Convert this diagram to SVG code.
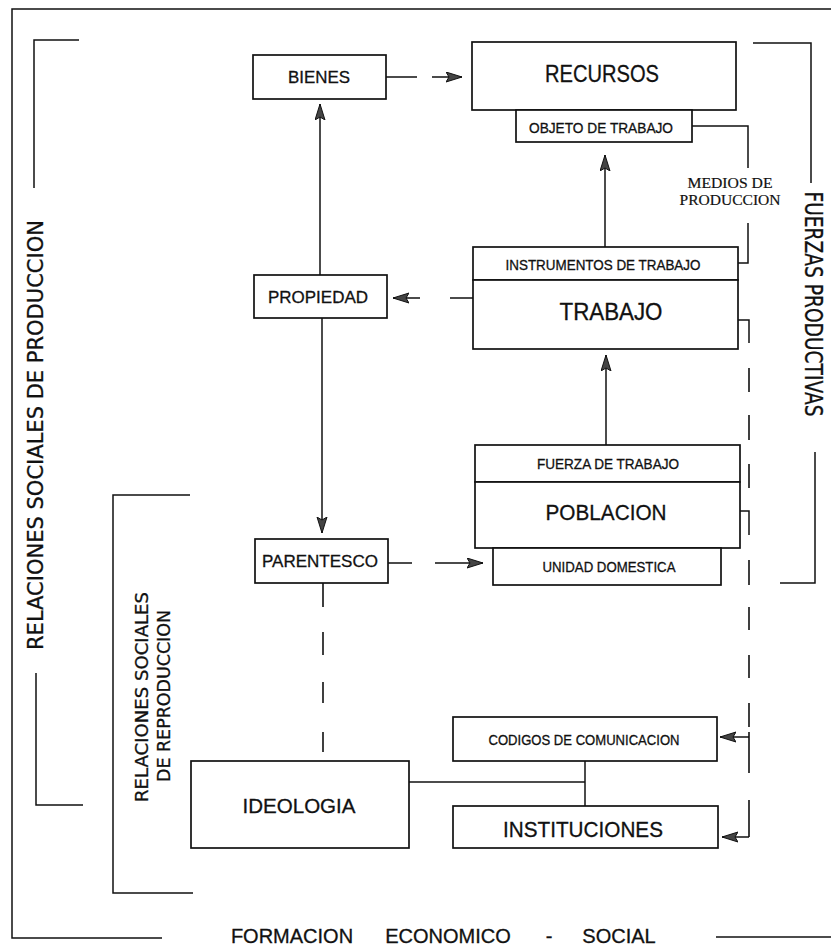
<svg xmlns="http://www.w3.org/2000/svg" width="831" height="947" viewBox="0 0 831 947">
<style>
  .box { fill: #fff; stroke: #111; stroke-width: 1.7; }
  .ln { fill: none; stroke: #111; stroke-width: 1.5; }
  .dash { fill: none; stroke: #111; stroke-width: 1.6; }
  .t { font-family: "Liberation Sans", Arial, sans-serif; fill: #111; stroke: #111; stroke-width: 0.3; text-anchor: middle; }
  .serif { font-family: "Liberation Serif", "Times New Roman", serif; fill: #111; stroke: #111; stroke-width: 0.2; text-anchor: middle; }
  .sq { font-family: "DejaVu Sans", "Liberation Sans", sans-serif; fill: #111; stroke: #111; stroke-width: 0.3; text-anchor: middle; }
</style>
<defs>
  <marker id="ah" markerUnits="userSpaceOnUse" markerWidth="18" markerHeight="12" refX="16" refY="5.5" orient="auto">
    <path d="M0,0.5 L16,5.5 L0,10.5 L3,5.5 z" fill="#444" stroke="#111" stroke-width="1"/>
  </marker>
</defs>
<rect width="831" height="947" fill="#fff"/>

<g id="frame">
  <path class="ln" d="M162,938 H12 V9 H831"/>
  <path class="ln" d="M716,937 H831"/>
  <path class="ln" d="M79,40 H34 V188"/>
  <path class="ln" d="M36,673 V805 H83"/>
  <path class="ln" d="M753,43 H811 V183"/>
  <path class="ln" d="M815,452 V583 H780"/>
  <path class="ln" d="M190,495 H113 V893 H193"/>
  <text class="t" font-size="20" y="943"><tspan x="292">FORMACION</tspan><tspan x="448">ECONOMICO</tspan><tspan x="549">-</tspan><tspan x="619">SOCIAL</tspan></text>
  <text class="sq" font-size="21" transform="translate(43,435) rotate(-90)" textLength="430" lengthAdjust="spacingAndGlyphs">RELACIONES SOCIALES DE PRODUCCION</text>
  <text class="sq" font-size="24" transform="translate(805,304) rotate(90)" textLength="225" lengthAdjust="spacingAndGlyphs">FUERZAS PRODUCTIVAS</text>
  <text class="sq" font-size="18" transform="translate(148,697) rotate(-90)" textLength="210" lengthAdjust="spacingAndGlyphs">RELACIONES SOCIALES</text>
  <text class="sq" font-size="18" transform="translate(170,696) rotate(-90)" textLength="172" lengthAdjust="spacingAndGlyphs">DE REPRODUCCION</text>
</g>

<g id="bienes">
  <rect class="box" x="253" y="55" width="133" height="44"/>
  <text class="t" x="319" y="83" font-size="17" textLength="62" lengthAdjust="spacingAndGlyphs">BIENES</text>
</g>
<g id="recursos">
  <rect class="box" x="472" y="42" width="264" height="68"/>
  <text class="t" x="602" y="82" font-size="24" textLength="114" lengthAdjust="spacingAndGlyphs">RECURSOS</text>
  <rect class="box" x="516" y="110" width="176" height="32"/>
  <text class="t" x="601" y="133" font-size="14" textLength="144" lengthAdjust="spacingAndGlyphs">OBJETO DE TRABAJO</text>
</g>
<g id="propiedad">
  <rect class="box" x="254" y="275" width="133" height="43"/>
  <text class="t" x="318" y="303" font-size="17" textLength="100" lengthAdjust="spacingAndGlyphs">PROPIEDAD</text>
</g>
<g id="trabajo">
  <rect class="box" x="473" y="247" width="265" height="33"/>
  <text class="t" x="603" y="270" font-size="14" textLength="195" lengthAdjust="spacingAndGlyphs">INSTRUMENTOS DE TRABAJO</text>
  <rect class="box" x="473" y="280" width="265" height="69"/>
  <text class="t" x="611" y="320" font-size="24" textLength="103" lengthAdjust="spacingAndGlyphs">TRABAJO</text>
</g>
<g id="medios">
  <text class="serif" font-size="15" x="730" y="188" textLength="85" lengthAdjust="spacingAndGlyphs">MEDIOS DE</text>
  <text class="serif" font-size="15" x="730" y="205" textLength="101" lengthAdjust="spacingAndGlyphs">PRODUCCION</text>
</g>
<g id="parentesco">
  <rect class="box" x="255" y="539" width="133" height="44"/>
  <text class="t" x="320" y="567" font-size="17" textLength="116" lengthAdjust="spacingAndGlyphs">PARENTESCO</text>
</g>
<g id="poblacion">
  <rect class="box" x="475" y="445" width="265" height="37"/>
  <text class="t" x="608" y="469" font-size="14" textLength="142" lengthAdjust="spacingAndGlyphs">FUERZA DE TRABAJO</text>
  <rect class="box" x="475" y="482" width="265" height="66"/>
  <text class="t" x="606" y="520" font-size="22" textLength="121" lengthAdjust="spacingAndGlyphs">POBLACION</text>
  <rect class="box" x="493" y="548" width="228" height="37"/>
  <text class="t" x="609" y="572" font-size="14" textLength="133" lengthAdjust="spacingAndGlyphs">UNIDAD DOMESTICA</text>
</g>
<g id="codigos">
  <rect class="box" x="453" y="717" width="264" height="44"/>
  <text class="t" x="584" y="745" font-size="14" textLength="191" lengthAdjust="spacingAndGlyphs">CODIGOS DE COMUNICACION</text>
</g>
<g id="instituciones">
  <rect class="box" x="453" y="806" width="265" height="42"/>
  <text class="t" x="583" y="837" font-size="22" textLength="160" lengthAdjust="spacingAndGlyphs">INSTITUCIONES</text>
</g>
<g id="ideologia">
  <rect class="box" x="191" y="761" width="218" height="87"/>
  <text class="t" x="299" y="813" font-size="21" textLength="113" lengthAdjust="spacingAndGlyphs">IDEOLOGIA</text>
</g>

<g id="connectors">
  <path class="ln" d="M320,275 V104" marker-end="url(#ah)"/>
  <path class="ln" d="M322,318 V533" marker-end="url(#ah)"/>
  <path class="ln" d="M605,247 V155" marker-end="url(#ah)"/>
  <path class="ln" d="M606,445 V355" marker-end="url(#ah)"/>
  <path class="dash" d="M386,77 H417 M432,77 H462" marker-end="url(#ah)"/>
  <path class="dash" d="M473,298 H450 M420,298 H393" marker-end="url(#ah)"/>
  <path class="dash" d="M388,563 H412 M435,563 H483" marker-end="url(#ah)"/>
  <path class="ln" d="M692,126 H748 V168"/>
  <path class="ln" d="M748,223 V263 H738"/>
  <path class="ln" d="M738,320 H749 V343"/>
  <path class="ln" d="M740,511 H749 V535"/>
  <path class="dash" d="M749,368 V392 M749,415 V440 M749,464 V488 M749,560 V585 M749,607 V630 M749,655 V678 M749,703 V727 M749,732 V773 M749,800 V837"/>
  <path class="ln" d="M749,737 H720" marker-end="url(#ah)"/>
  <path class="ln" d="M749,837 H722" marker-end="url(#ah)"/>
  <path class="dash" d="M323,583 V607 M323,632 V655 M323,682 V703 M323,732 V752"/>
  <path class="ln" d="M409,782 H585"/>
  <path class="ln" d="M585,761 V806"/>
</g>
</svg>
